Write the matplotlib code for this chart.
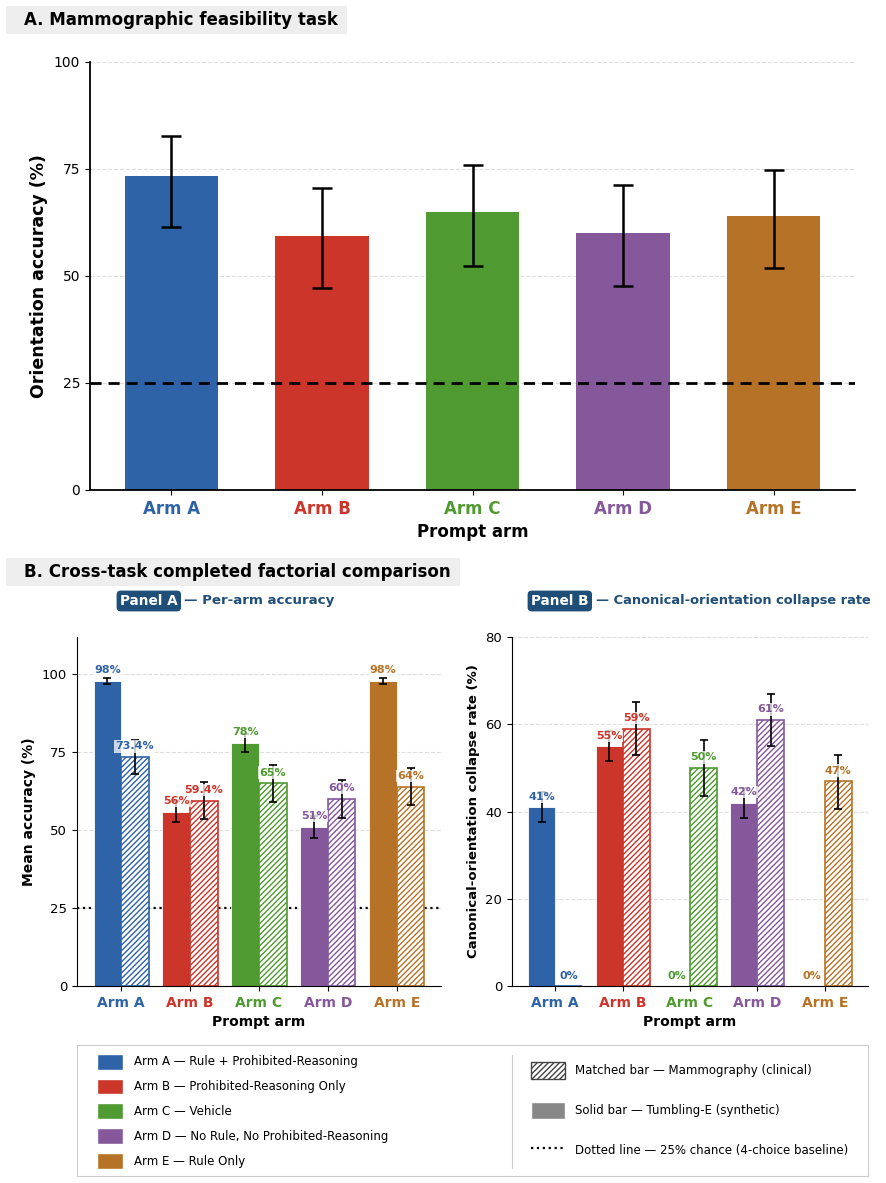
import numpy as np
import matplotlib
matplotlib.use("Agg")
import matplotlib.pyplot as plt
from matplotlib.patches import Patch, Rectangle
from matplotlib.lines import Line2D

arms = ["Arm A", "Arm B", "Arm C", "Arm D", "Arm E"]
arm_desc = ["Rule + Prohibited-Reasoning", "Prohibited-Reasoning Only", "Vehicle",
            "No Rule, No Prohibited-Reasoning", "Rule Only"]
colors = ["#2F63A7", "#CC3529", "#4F9A31", "#85589C", "#B67327"]

# A. mammographic feasibility task
mammo_acc = [73.4, 59.4, 65.0, 60.0, 64.0]
mammo_lo = [61.5, 47.3, 52.3, 47.6, 51.9]
mammo_hi = [82.7, 70.5, 75.9, 71.3, 74.7]

# B. panel A - per-arm accuracy
te_acc = [98, 56, 78, 51, 98]
te_acc_lo = [97, 52.5, 75, 47.5, 97]
te_acc_hi = [99, 59.5, 81, 54.5, 99]
mm_acc_lo = [68, 53.5, 59, 54, 58]
mm_acc_hi = [79, 65.5, 71, 66, 70]
te_acc_lab = ["98%", "56%", "78%", "51%", "98%"]
mm_acc_lab = ["73.4%", "59.4%", "65%", "60%", "64%"]

# B. panel B - collapse rate
te_col = [41, 55, 0, 42, 0]
te_col_lo = [37.5, 51.5, 0, 38.5, 0]
te_col_hi = [44.5, 58.5, 0, 45.5, 0]
mm_col = [0, 59, 50, 61, 47]
mm_col_lo = [0, 53, 43.5, 55, 40.5]
mm_col_hi = [0, 65, 56.5, 67, 53]
te_col_lab = ["41%", "55%", "0%", "42%", "0%"]
mm_col_lab = ["0%", "59%", "50%", "61%", "47%"]

navy = "#1F4E79"
W, H = 886, 1183
fig = plt.figure(figsize=(W / 100, H / 100), dpi=100)


def yerr(v, lo, hi):
    v = np.array(v, float)
    return [v - np.array(lo), np.array(hi) - v]


def style(ax):
    ax.spines["top"].set_visible(False)
    ax.spines["right"].set_visible(False)
    ax.yaxis.grid(True, linestyle="--", color="#dddddd", linewidth=0.8)
    ax.set_axisbelow(True)


def section_title(x0, x1, y0, y1, txt):
    fig.patches.append(Rectangle((x0 / W, 1 - y1 / H), (x1 - x0) / W, (y1 - y0) / H,
                                 transform=fig.transFigure, fc="#eeeeee", ec="none", zorder=0))
    fig.text(24 / W, 1 - (y0 + y1) / 2 / H, txt, fontsize=12, fontweight="bold",
             va="center", ha="left")


# ---- top panel
ax = fig.add_axes([0.1016, 0.5858, 0.8634, 0.3618])
x = np.arange(len(arms))
ax.bar(x, mammo_acc, width=0.62, color=colors, zorder=2)
ax.errorbar(x, mammo_acc, yerr=yerr(mammo_acc, mammo_lo, mammo_hi), fmt="none",
            ecolor="black", elinewidth=1.8, capsize=7, capthick=1.8, zorder=3)
ax.axhline(25, color="black", linestyle=(0, (4, 2.5)), linewidth=2, zorder=3)
ax.set_ylim(0, 100)
ax.set_yticks([0, 25, 50, 75, 100])
ax.tick_params(axis="y", labelsize=10)
ax.set_xticks(x)
ax.set_xticklabels(arms, fontsize=12, fontweight="bold")
for t, c in zip(ax.get_xticklabels(), colors):
    t.set_color(c)
ax.set_ylabel("Orientation accuracy (%)", fontsize=12.5, fontweight="bold")
ax.set_xlabel("Prompt arm", fontsize=12, fontweight="bold")
style(ax)
ax.spines["left"].set_linewidth(1.3)
ax.spines["bottom"].set_linewidth(1.3)

section_title(6, 347, 6, 34, "A. Mammographic feasibility task")
section_title(6, 460, 558, 586, "B. Cross-task completed factorial comparison")


def paired(ax, solid, s_lo, s_hi, hatched, h_lo, h_hi, s_lab, h_lab, off):
    w = 0.4
    for i in range(len(arms)):
        ax.bar(x[i] - w / 2, solid[i], width=w, color=colors[i], edgecolor="white",
               linewidth=0.6, zorder=2)
        ax.bar(x[i] + w / 2, hatched[i], width=w, facecolor="white", edgecolor=colors[i],
               hatch="//////", linewidth=1.2, zorder=2)
        if solid[i] > 0:
            ax.errorbar(x[i] - w / 2, solid[i], yerr=[[solid[i] - s_lo[i]], [s_hi[i] - solid[i]]],
                        fmt="none", ecolor="black", elinewidth=1.2, capsize=3, capthick=1.2, zorder=3)
        if hatched[i] > 0:
            ax.errorbar(x[i] + w / 2, hatched[i], yerr=[[hatched[i] - h_lo[i]], [h_hi[i] - hatched[i]]],
                        fmt="none", ecolor="black", elinewidth=1.2, capsize=3, capthick=1.2, zorder=3)
        ax.text(x[i] - w / 2, solid[i] + off, s_lab[i], ha="center", va="center",
                fontsize=8, fontweight="bold", color=colors[i], zorder=4,
                bbox=dict(boxstyle="square,pad=0.1", fc="white", ec="none", alpha=0.75))
        ax.text(x[i] + w / 2, hatched[i] + off, h_lab[i], ha="center", va="center",
                fontsize=8, fontweight="bold", color=colors[i], zorder=4,
                bbox=dict(boxstyle="square,pad=0.1", fc="white", ec="none", alpha=0.75))
    ax.set_xticks(x)
    ax.set_xticklabels(arms, fontsize=10, fontweight="bold")
    for t, c in zip(ax.get_xticklabels(), colors):
        t.set_color(c)
    ax.set_xlabel("Prompt arm", fontsize=10, fontweight="bold")
    ax.tick_params(axis="y", labelsize=9.5)
    style(ax)


# ---- bottom left
axl = fig.add_axes([0.0869, 0.1665, 0.4108, 0.295])
axl.axhline(25, color="black", linestyle=":", linewidth=1.6, zorder=1)
paired(axl, te_acc, te_acc_lo, te_acc_hi, mammo_acc, mm_acc_lo, mm_acc_hi,
       te_acc_lab, mm_acc_lab, 3.5)
axl.set_ylim(0, 112)
axl.set_yticks([0, 25, 50, 75, 100])
axl.set_ylabel("Mean accuracy (%)", fontsize=10, fontweight="bold")

# ---- bottom right
axr = fig.add_axes([0.5779, 0.1665, 0.4018, 0.295])
paired(axr, te_col, te_col_lo, te_col_hi, mm_col, mm_col_lo, mm_col_hi,
       te_col_lab, mm_col_lab, 2.4)
axr.set_ylim(0, 80)
axr.set_yticks([0, 20, 40, 60, 80])
axr.set_ylabel("Canonical-orientation collapse rate (%)", fontsize=9.5, fontweight="bold")

# panel subtitles
yy = 1 - 601 / H
fig.text(120 / W, yy, "Panel A", fontsize=9.8, fontweight="bold", color="white",
         va="center", ha="left",
         bbox=dict(boxstyle="round,pad=0.25,rounding_size=0.3", fc=navy, ec="none"))
fig.text(184 / W, yy, "— Per-arm accuracy", fontsize=9.6, fontweight="bold", color=navy,
         va="center", ha="left")
fig.text(531 / W, yy, "Panel B", fontsize=9.8, fontweight="bold", color="white",
         va="center", ha="left",
         bbox=dict(boxstyle="round,pad=0.25,rounding_size=0.3", fc=navy, ec="none"))
fig.text(596 / W, yy, "— Canonical-orientation collapse rate", fontsize=9.4, fontweight="bold",
         color=navy, va="center", ha="left")

# ---- legend box
axg = fig.add_axes([0.0869, 0.0059, 0.8928, 0.1108])
axg.set_xticks([])
axg.set_yticks([])
for s in axg.spines.values():
    s.set_color("#cccccc")
    s.set_linewidth(0.8)
arm_handles = [Patch(facecolor=c, edgecolor="white") for c in colors]
arm_labels = [f"{a} — {d}" for a, d in zip(arms, arm_desc)]
leg1 = axg.legend(arm_handles, arm_labels, loc="upper left", bbox_to_anchor=(0.012, 1.015),
                  frameon=False, fontsize=8.5, handlelength=2.2, handleheight=1.7,
                  labelspacing=0.76, handletextpad=0.9)
axg.add_artist(leg1)
key_handles = [Patch(facecolor="white", edgecolor="#444444", hatch="//////"),
               Patch(facecolor="#888888", edgecolor="white"),
               Line2D([0], [0], color="black", linestyle=":", linewidth=1.6)]
key_labels = ["Matched bar — Mammography (clinical)", "Solid bar — Tumbling-E (synthetic)",
              "Dotted line — 25% chance (4-choice baseline)"]
axg.legend(key_handles, key_labels, loc="upper left", bbox_to_anchor=(0.56, 0.95),
           frameon=False, fontsize=8.5, handlelength=2.9, handleheight=1.8,
           labelspacing=1.98, handletextpad=0.9)
axg.plot([0.55, 0.55], [0.06, 0.92], color="#cccccc", linewidth=0.8, transform=axg.transAxes)
axg.set_xlim(0, 1)
axg.set_ylim(0, 1)

fig.savefig("out.png", dpi=100)
